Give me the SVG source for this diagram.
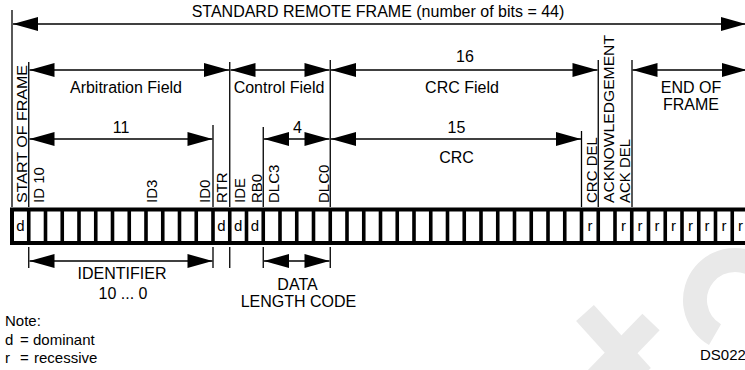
<svg xmlns="http://www.w3.org/2000/svg" width="745" height="370" viewBox="0 0 745 370">
<style>
text{font-family:"Liberation Sans",Arial,sans-serif;fill:#000}
.l{font-size:16px;text-anchor:middle}
.v{font-size:15px}
.b{font-size:15px;text-anchor:middle}
.n{font-size:15px}
.ln{stroke:#000;stroke-width:1.3;fill:none}
.ar{stroke:#000;stroke-width:1.3;fill:none;marker-start:url(#ah);marker-end:url(#ah)}
.wm{stroke:#e9e9e9;fill:none;stroke-width:24}
</style>
<defs>
<marker id="ah" markerUnits="userSpaceOnUse" markerWidth="26" markerHeight="15" refX="25" refY="7" orient="auto-start-reverse" overflow="visible">
<path d="M0,0 L25,7 L0,14 Z" fill="#000"/>
</marker>
</defs>
<rect width="745" height="370" fill="#fff"/>
<g id="watermark">
<path class="wm" d="M585,313 L642,376 M651,322 L595,380"/>
<path class="wm" d="M715,334.6 A40,40 0 1 1 755,334.6"/>
</g>
<g id="connectors">
<path class="ln" d="M12,10 V207 M28.75,62 V207 M28.75,247 V268 M213,125 V207 M213,247 V268 M229.75,62 V207 M229.75,247 V268 M263.25,127 V207 M263.25,247 V268 M330.25,60 V207 M330.25,247 V268 M581.5,131 V207 M598.25,60 V207 M632,60 V207"/>
<line class="ar" x1="13" y1="24" x2="746" y2="24"/>
<line class="ar" x1="29.5" y1="70" x2="229" y2="70"/>
<line class="ar" x1="230.5" y1="70" x2="329.5" y2="70"/>
<line class="ar" x1="331" y1="70" x2="597.5" y2="70"/>
<line class="ar" x1="632.5" y1="70" x2="747" y2="70"/>
<line class="ar" x1="29.5" y1="139" x2="212.5" y2="139"/>
<line class="ar" x1="264" y1="139" x2="329.5" y2="139"/>
<line class="ar" x1="331" y1="139" x2="581" y2="139"/>
<line class="ar" x1="29.5" y1="261" x2="212.5" y2="261"/>
<line class="ar" x1="264" y1="261" x2="329.5" y2="261"/>
</g>
<g id="bit-row">
<rect x="12" y="209.5" width="737" height="33.5" fill="#fff" stroke="#000" stroke-width="4"/>
<path stroke="#000" stroke-width="3.6" d="M28.75,209.5V243M45.5,209.5V243M62.25,209.5V243M79,209.5V243M95.75,209.5V243M112.5,209.5V243M129.25,209.5V243M146,209.5V243M162.75,209.5V243M179.5,209.5V243M196.25,209.5V243M213,209.5V243M229.75,209.5V243M246.5,209.5V243M263.25,209.5V243M280,209.5V243M296.75,209.5V243M313.5,209.5V243M330.25,209.5V243M347,209.5V243M363.75,209.5V243M380.5,209.5V243M397.25,209.5V243M414,209.5V243M430.75,209.5V243M447.5,209.5V243M464.25,209.5V243M481,209.5V243M497.75,209.5V243M514.5,209.5V243M531.25,209.5V243M548,209.5V243M564.75,209.5V243M581.5,209.5V243M598.25,209.5V243M615,209.5V243M631.75,209.5V243M648.5,209.5V243M665.25,209.5V243M682,209.5V243M698.75,209.5V243M715.5,209.5V243M732.25,209.5V243"/>
<text class="b" x="20.4" y="230.5">d</text>
<text class="b" x="221.4" y="230.5">d</text>
<text class="b" x="238.1" y="230.5">d</text>
<text class="b" x="254.9" y="230.5">d</text>
<text class="b" x="589.9" y="230.5">r</text>
<text class="b" x="623.4" y="230.5">r</text>
<text class="b" x="640.1" y="230.5">r</text>
<text class="b" x="656.9" y="230.5">r</text>
<text class="b" x="673.6" y="230.5">r</text>
<text class="b" x="690.4" y="230.5">r</text>
<text class="b" x="707.1" y="230.5">r</text>
<text class="b" x="723.9" y="230.5">r</text>
<text class="b" x="740.6" y="230.5">r</text>
</g>
<g id="frame-title"><text class="l" x="378" y="16.5">STANDARD REMOTE FRAME (number of bits = 44)</text></g>
<g id="arbitration-field"><text class="l" x="126" y="93">Arbitration Field</text></g>
<g id="control-field"><text class="l" x="279" y="93">Control Field</text></g>
<g id="crc-field"><text class="l" x="465" y="62">16</text><text class="l" x="462" y="93">CRC Field</text></g>
<g id="end-of-frame"><text class="l" x="691" y="93">END OF</text><text class="l" x="691" y="110">FRAME</text></g>
<g id="id-count"><text class="l" x="121" y="133">11</text></g>
<g id="dlc-count"><text class="l" x="297.5" y="133">4</text></g>
<g id="crc"><text class="l" x="456.5" y="133">15</text><text class="l" x="456.5" y="163">CRC</text></g>
<g id="bit-labels">
<text class="v" transform="translate(26.5,203) rotate(-90)" textLength="138" lengthAdjust="spacingAndGlyphs">START OF FRAME</text>
<text class="v" transform="translate(43.5,203) rotate(-90)">ID 10</text>
<text class="v" transform="translate(157,203) rotate(-90)">ID3</text>
<text class="v" transform="translate(209.5,203) rotate(-90)">ID0</text>
<text class="v" transform="translate(227,203) rotate(-90)">RTR</text>
<text class="v" transform="translate(245,203) rotate(-90)">IDE</text>
<text class="v" transform="translate(262,203) rotate(-90)">RB0</text>
<text class="v" transform="translate(278.5,203) rotate(-90)">DLC3</text>
<text class="v" transform="translate(328.5,203) rotate(-90)">DLC0</text>
<text class="v" transform="translate(597,203) rotate(-90)">CRC DEL</text>
<text class="v" transform="translate(613.5,203) rotate(-90)" textLength="168" lengthAdjust="spacingAndGlyphs">ACKNOWLEDGEMENT</text>
<text class="v" transform="translate(630,203) rotate(-90)">ACK DEL</text>
</g>
<g id="identifier"><text class="l" x="122" y="279">IDENTIFIER</text><text class="l" x="123" y="299">10 ... 0</text></g>
<g id="data-length-code"><text class="l" x="297.5" y="290">DATA</text><text class="l" x="298.5" y="307">LENGTH CODE</text></g>
<g id="note">
<text class="n" x="5" y="326">Note:</text>
<text class="n" y="345"><tspan x="5">d</tspan><tspan x="20">=</tspan><tspan x="33">dominant</tspan></text>
<text class="n" y="363"><tspan x="5">r</tspan><tspan x="20">=</tspan><tspan x="34">recessive</tspan></text>
</g>
<g id="ref"><text class="n" x="700" y="360">DS022</text></g>
</svg>
